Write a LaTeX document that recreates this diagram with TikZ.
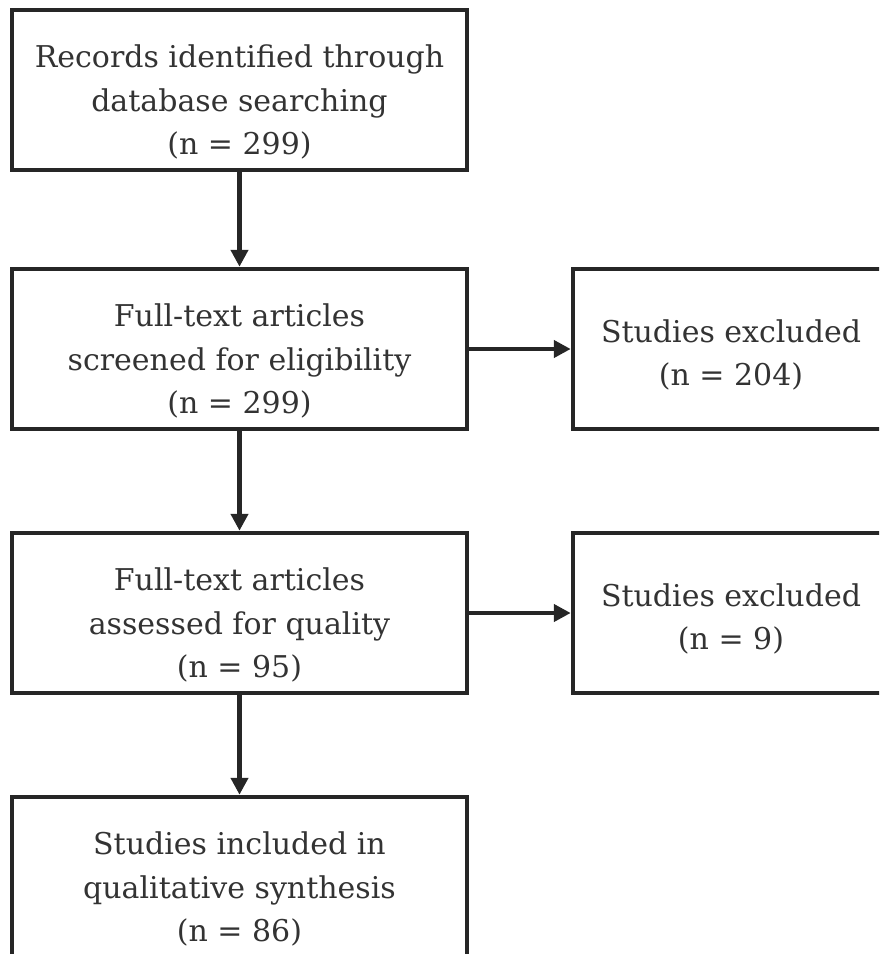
\documentclass[tikz,border=0pt]{standalone}
\usepackage{fontspec}
\setmainfont{DejaVu Serif}
\usetikzlibrary{arrows.meta}
\definecolor{boxline}{HTML}{262626}
\definecolor{boxtext}{HTML}{333333}
\begin{document}
\begin{tikzpicture}[x=1pt,y=-1pt,
    box/.style={draw=boxline,line width=4.5pt,inner sep=0pt,
        minimum width=455pt,minimum height=160pt},
    sidebox/.style={box,minimum width=316pt},
    boxlabel/.style={align=center,text=boxtext,inner sep=0pt,
        font=\fontsize{30}{43.5}\selectfont},
    arr/.style={draw=boxline,line width=4.5pt,-{Triangle[length=17pt,width=17pt]}}]
    \path[use as bounding box] (0,0) rectangle (879,954);
    \clip (0,0) rectangle (879,954);
    % main column
    \node[box] (rec) at (239.5,90) {};
    \node[box] (screen) at (239.5,349) {};
    \node[box] (assess) at (239.5,613) {};
    \node[box] (incl) at (239.5,877) {};
    \node[boxlabel] at ([yshift=-12pt]rec.center) {Records identified through\\database searching\\(n = 299)};
    \node[boxlabel] at ([yshift=-12pt]screen.center) {Full-text articles\\screened for eligibility\\(n = 299)};
    \node[boxlabel] at ([yshift=-12pt]assess.center) {Full-text articles\\assessed for quality\\(n = 95)};
    \node[boxlabel] at ([yshift=-12pt]incl.center) {Studies included in\\qualitative synthesis\\(n = 86)};
    % exclusions
    \node[sidebox] (excl1) at (731,349) {};
    \node[sidebox] (excl2) at (731,613) {};
    \node[boxlabel] at ([yshift=-6pt]excl1.center) {Studies excluded\\(n = 204)};
    \node[boxlabel] at ([yshift=-6pt]excl2.center) {Studies excluded\\(n = 9)};
    % arrows
    \draw[arr] (rec) -- (screen);
    \draw[arr] (screen) -- (assess);
    \draw[arr] (assess) -- (incl);
    \draw[arr] (screen) -- (excl1);
    \draw[arr] (assess) -- (excl2);
\end{tikzpicture}
\end{document}
